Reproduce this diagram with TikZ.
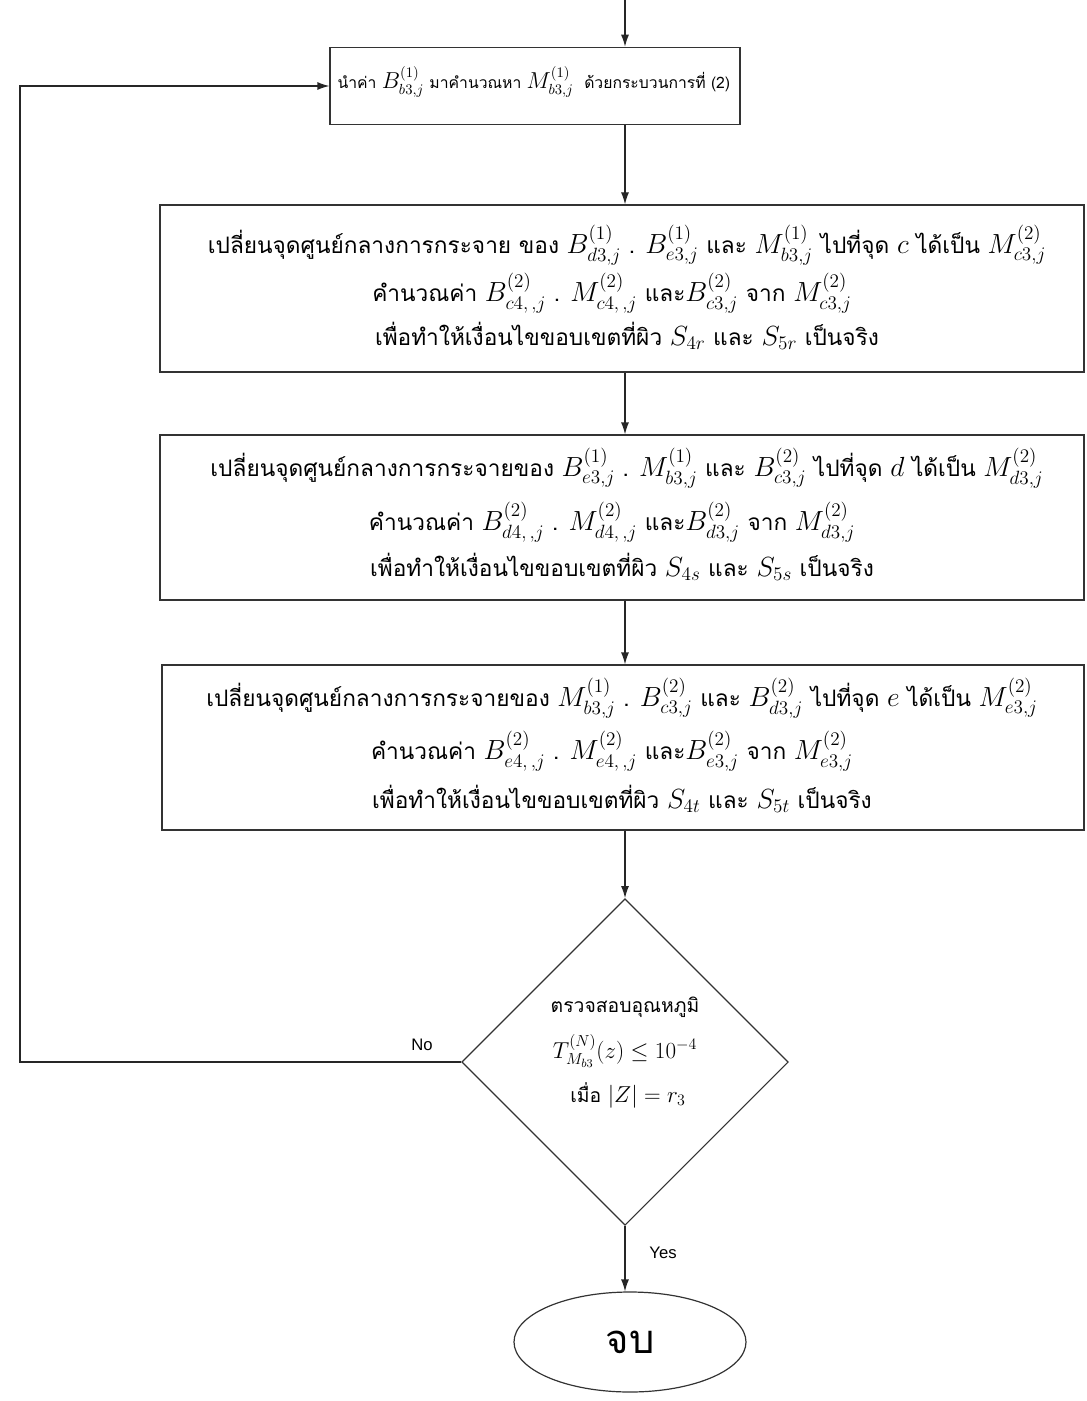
\documentclass[tikz,border=0pt]{standalone}
\usepackage{amsmath}
\usepackage{fontspec}
\setmainfont{Liberation Serif}
\newfontfamily\thai[Script=Thai]{Loma}
\newfontfamily\arial{Liberation Sans}
\usetikzlibrary{arrows.meta,shapes.geometric}
\newcommand\mth[1]{{\fontsize{20.5}{22}\selectfont$#1$}}
\newcommand\mtt[1]{{\fontsize{16}{18}\selectfont$#1$}}
\newcommand\mtd[1]{{\fontsize{18.5}{20}\selectfont$#1$}}
\begin{document}
\begin{tikzpicture}[x=0.75pt,y=-0.75pt,
  line width=0.9pt,
  box/.style={draw=black!80, rectangle, inner sep=0pt},
  conn/.style={draw=black!85, -{Latex[length=9pt,width=6pt]}},
  tline/.style={font=\thai\fontsize{17}{19}\selectfont, inner sep=0pt, anchor=center},
  tsmall/.style={font=\thai\fontsize{11.8}{14}\selectfont, inner sep=0pt},
  tdia/.style={font=\thai\fontsize{14.5}{16}\selectfont, inner sep=0pt, anchor=center},
  lbl/.style={font=\arial\fontsize{12.5}{14}\selectfont, inner sep=0pt}]
\useasboundingbox (0,0) rectangle (1086,1401);

% boxes
\node[box, minimum width=307.5pt, minimum height=58pt] (top) at (535,86) {};
\node[box, minimum width=693pt, minimum height=125.25pt] (b1) at (622,288.5) {};
\node[box, minimum width=693pt, minimum height=123.75pt] (b2) at (622,517.5) {};
\node[box, minimum width=691.5pt, minimum height=123.75pt] (b3) at (623,747.5) {};
\node[draw=black!80, diamond, minimum width=245pt, minimum height=245pt, inner sep=0pt] (dia) at (625,1062) {};
\node[draw=black!80, ellipse, minimum width=174pt, minimum height=75pt, inner sep=0pt,
  font=\thai\fontsize{30}{32}\selectfont] (end) at (630,1342) {จบ};

% texts
\node[tsmall, anchor=west] (t0) at (337,82) {นำค่า \mtt{B^{(1)}_{b3,j}} มาคำนวณหา \mtt{M^{(1)}_{b3,j}} \ ด้วยกระบวนการที่ (2)};

\node[tline] (t11) at (627,245) {เปลี่ยนจุดศูนย์กลางการกระจาย ของ \mth{B^{(1)}_{d3,j}} . \mth{B^{(1)}_{e3,j}} และ \mth{M^{(1)}_{b3,j}} ไปที่จุด \mth{c} ได้เป็น \mth{M^{(2)}_{c3,j}}};
\node[tline] (t12) at (612,293) {คำนวณค่า \mth{B^{(2)}_{c4,\,,j}} . \mth{M^{(2)}_{c4,\,,j}} และ\mth{B^{(2)}_{c3,j}} จาก \mth{M^{(2)}_{c3,j}}};
\node[tline] (t13) at (627,336) {เพื่อทำให้เงื่อนไขขอบเขตที่ผิว \mth{S_{4r}} และ \mth{S_{5r}} เป็นจริง};

\node[tline] (t21) at (627,468) {เปลี่ยนจุดศูนย์กลางการกระจายของ \mth{B^{(1)}_{e3,j}} . \mth{M^{(1)}_{b3,j}} และ \mth{B^{(2)}_{c3,j}} ไปที่จุด \mth{d} ได้เป็น \mth{M^{(2)}_{d3,j}}};
\node[tline] (t22) at (612,522) {คำนวณค่า \mth{B^{(2)}_{d4,\,,j}} . \mth{M^{(2)}_{d4,\,,j}} และ\mth{B^{(2)}_{d3,j}} จาก \mth{M^{(2)}_{d3,j}}};
\node[tline] (t23) at (622,567) {เพื่อทำให้เงื่อนไขขอบเขตที่ผิว \mth{S_{4s}} และ \mth{S_{5s}} เป็นจริง};

\node[tline] (t31) at (622,698) {เปลี่ยนจุดศูนย์กลางการกระจายของ \mth{M^{(1)}_{b3,j}} . \mth{B^{(2)}_{c3,j}} และ \mth{B^{(2)}_{d3,j}} ไปที่จุด \mth{e} ได้เป็น \mth{M^{(2)}_{e3,j}}};
\node[tline] (t32) at (612,751) {คำนวณค่า \mth{B^{(2)}_{e4,\,,j}} . \mth{M^{(2)}_{e4,\,,j}} และ\mth{B^{(2)}_{e3,j}} จาก \mth{M^{(2)}_{e3,j}}};
\node[tline] (t33) at (622,799) {เพื่อทำให้เงื่อนไขขอบเขตที่ผิว \mth{S_{4t}} และ \mth{S_{5t}} เป็นจริง};

\node[tdia] (d1) at (625,1007) {ตรวจสอบอุณหภูมิ};
\node[tdia] (d2) at (625,1051) {\mtd{T^{(N)}_{M_{b3}}(z)\le 10^{-4}}};
\node[tdia] (d3) at (628,1095) {เมื่อ \mtd{|Z| = r_3}};

\node[lbl] (no) at (422,1045) {No};
\node[lbl] (yes) at (663,1253) {Yes};

% connectors
\coordinate (in) at (625,0);
\coordinate (back) at (20,1062);
\draw[conn] (in) -- (in |- top.north);
\draw[conn] (in |- top.south) -- (in |- b1.north);
\draw[conn] (in |- b1.south) -- (in |- b2.north);
\draw[conn] (in |- b2.south) -- (in |- b3.north);
\draw[conn] (in |- b3.south) -- (dia.north);
\draw[conn] (dia.south) -- (dia.south |- end.north);
\draw[conn] (dia.west) -- (back) |- (top.west);
\end{tikzpicture}
\end{document}
